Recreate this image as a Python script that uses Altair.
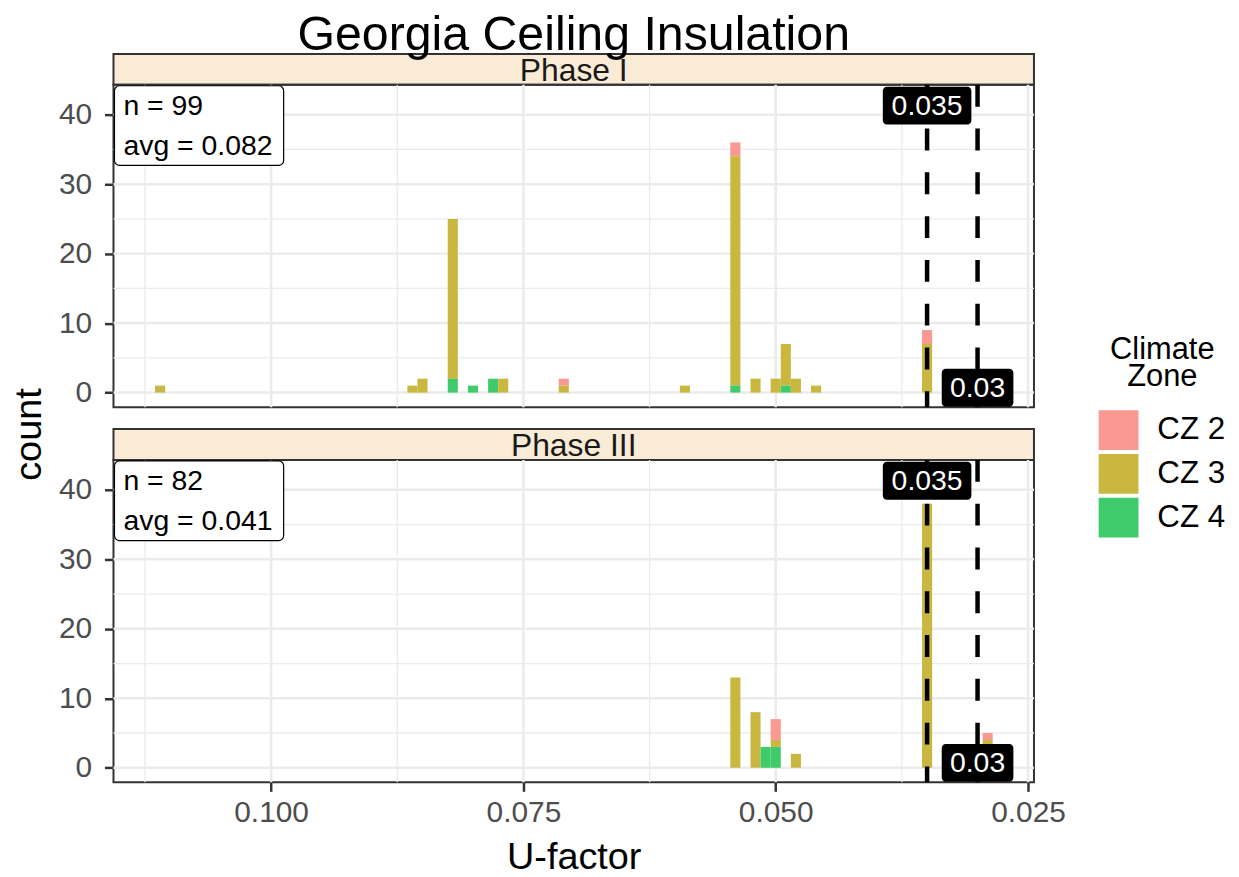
import altair as alt
import pandas as pd

FONT = "Liberation Sans"
TITLE = "Georgia Ceiling Insulation"
PHASES = ["Phase I", "Phase III"]
ZONES = ["CZ 2", "CZ 3", "CZ 4"]
ZONE_COLORS = ["#FA9892", "#C9B740", "#40CB6A"]
ZONE_STACK = [2, 1, 0]  # CZ 4 at the bottom, CZ 2 on top

# Phase I histogram (bin centres, counts per climate zone)
P1_BINS = [0.111, 0.086, 0.085, 0.082, 0.080, 0.078, 0.077, 0.071, 0.059,
           0.054, 0.052, 0.050, 0.049, 0.048, 0.046, 0.035]
P1_CZ2 = [0, 0, 0, 0, 0, 0, 0, 1, 0, 2, 0, 0, 0, 0, 0, 2]
P1_CZ3 = [1, 1, 2, 23, 0, 0, 2, 1, 1, 33, 2, 2, 6, 2, 1, 7]
P1_CZ4 = [0, 0, 0, 2, 1, 2, 0, 0, 0, 1, 0, 0, 1, 0, 0, 0]

# Phase III histogram
P3_BINS = [0.054, 0.052, 0.051, 0.050, 0.048, 0.035, 0.029]
P3_CZ2 = [0, 0, 0, 3, 0, 0, 1]
P3_CZ3 = [13, 8, 0, 1, 2, 38, 4]
P3_CZ4 = [0, 0, 3, 3, 0, 0, 0]

N_OBS = [99, 82]
AVG_U = [0.082, 0.041]

THRESH = [0.035, 0.03]
THRESH_TEXT = ["0.035", "0.03"]
THRESH_LABEL_Y = [41.3, 0.7]

X_TICKS = [0.100, 0.075, 0.050, 0.025]
X_MINOR = [0.1125, 0.0875, 0.0625, 0.0375]
Y_TICKS = [0, 10, 20, 30, 40]
Y_MINOR = [5, 15, 25, 35]
BIN_WIDTH = 0.001
X_DOMAIN = [0.02441, 0.11562]
Y_DOMAIN = [-2.1, 44.3]

W = 925
H = 324
STRIP_H = 31
GAP = 22

xscale = alt.Scale(domain=X_DOMAIN, reverse=True, nice=False, zero=False)
yscale = alt.Scale(domain=Y_DOMAIN, nice=False, zero=False)

yaxis = alt.Axis(values=Y_TICKS, format="d", grid=False, domain=False, ticks=True,
                 tickSize=9, tickWidth=2.5, tickColor="#333333",
                 labelFontSize=30, labelColor="#4D4D4D", labelPadding=13,
                 labelFont=FONT, title=None)
xaxis_bottom = alt.Axis(values=X_TICKS, format=".3f", grid=False, domain=False,
                        tickSize=9, tickWidth=2.5, tickColor="#333333",
                        labelFontSize=30, labelColor="#4D4D4D", labelPadding=6,
                        labelFont=FONT, title="U-factor", titleFontSize=38,
                        titleColor="black", titleFontWeight="normal",
                        titleFont=FONT, titlePadding=12)


def bars_frame(i):
    bins, cz2, cz3, cz4 = [(P1_BINS, P1_CZ2, P1_CZ3, P1_CZ4),
                           (P3_BINS, P3_CZ2, P3_CZ3, P3_CZ4)][i]
    rows = []
    for b, c2, c3, c4 in zip(bins, cz2, cz3, cz4):
        for z, c, o in zip(ZONES, (c2, c3, c4), ZONE_STACK):
            if c > 0:
                rows.append({"center": b, "zone": z, "count": c, "ord": o})
    return pd.DataFrame(rows)


def panel(i, show_x):
    xaxis = xaxis_bottom if show_x else None

    def X(f):
        if xaxis is None:
            return alt.X(f, type="quantitative", scale=xscale, axis=None)
        return alt.X(f, type="quantitative", scale=xscale, axis=xaxis)

    def Y(f):
        return alt.Y(f, type="quantitative", scale=yscale, axis=yaxis)

    gx_minor = alt.Chart(pd.DataFrame({"v": X_MINOR})).mark_rule(
        color="#EBEBEB", strokeWidth=1.3).encode(x=X("v"))
    gx_major = alt.Chart(pd.DataFrame({"v": X_TICKS})).mark_rule(
        color="#EBEBEB", strokeWidth=2.5).encode(x=X("v"))
    gy_minor = alt.Chart(pd.DataFrame({"v": Y_MINOR})).mark_rule(
        color="#EBEBEB", strokeWidth=1.3).encode(y=Y("v"))
    gy_major = alt.Chart(pd.DataFrame({"v": Y_TICKS})).mark_rule(
        color="#EBEBEB", strokeWidth=2.5).encode(y=Y("v"))

    bars = alt.Chart(bars_frame(i)).transform_stack(
        stack="count", groupby=["center"], as_=["y0", "y1"],
        sort=[alt.SortField("ord", order="ascending")]
    ).transform_calculate(
        lo=f"datum.center + {BIN_WIDTH / 2}",
        hi=f"datum.center - {BIN_WIDTH / 2}",
    ).mark_rect().encode(
        x=X("lo"),
        x2="hi:Q",
        y=Y("y0"),
        y2="y1:Q",
        color=alt.Color("zone:N", scale=alt.Scale(domain=ZONES, range=ZONE_COLORS),
                        legend=alt.Legend(
                            title=["Climate", "Zone"], orient="none",
                            legendX=990, legendY=283,
                            symbolType="square", symbolSize=1600,
                            symbolStrokeWidth=0, symbolOpacity=1,
                            labelFontSize=31.5, labelFont=FONT, labelColor="black",
                            titleFontSize=31, titleFont=FONT, titleColor="black",
                            titleFontWeight="normal", titleAlign="center",
                            titleAnchor="middle", titleLineHeight=27,
                            titlePadding=17, rowPadding=4, labelOffset=19)),
    )

    thr_df = pd.DataFrame({"t": THRESH, "txt": THRESH_TEXT, "ly": THRESH_LABEL_Y})
    dashed = alt.Chart(thr_df).mark_rule(
        color="black", strokeWidth=4.5, strokeDash=[22, 22]).encode(x=X("t"))

    box_layers = []
    for k, half in ((0, 44.5), (1, 36)):
        one = thr_df.iloc[[k]]
        box_layers.append(alt.Chart(one).mark_rect(
            color="black", cornerRadius=4, xOffset=-half, x2Offset=half,
            yOffset=-19, y2Offset=19).encode(x=X("t"), x2="t:Q", y=Y("ly"), y2="ly:Q"))
    thr_text = alt.Chart(thr_df).mark_text(
        color="white", fontSize=28.5, font=FONT, align="center", baseline="middle"
    ).encode(x=X("t"), y=Y("ly"), text="txt:N")

    info = pd.DataFrame({"l1": [f"n = {N_OBS[i]}"], "l2": [f"avg = {AVG_U[i]:.3f}"]})
    info_box = alt.Chart(info).mark_rect(
        fill="white", stroke="black", strokeWidth=1.2, cornerRadius=5
    ).encode(x=alt.value(1), x2=alt.value(171), y=alt.value(1), y2=alt.value(81))
    info_t1 = alt.Chart(info).mark_text(
        align="left", baseline="alphabetic", fontSize=28.5, font=FONT, color="black"
    ).encode(x=alt.value(10), y=alt.value(30.7), text="l1:N")
    info_t2 = alt.Chart(info).mark_text(
        align="left", baseline="alphabetic", fontSize=28.5, font=FONT, color="black"
    ).encode(x=alt.value(10), y=alt.value(70.7), text="l2:N")

    layers = [gx_minor, gx_major, gy_minor, gy_major, bars, dashed] + box_layers + \
             [thr_text, info_box, info_t1, info_t2]

    if show_x:
        ylab = alt.Chart(pd.DataFrame({"t": ["count"]})).mark_text(
            angle=270, fontSize=38, font=FONT, color="black",
            align="center", baseline="alphabetic"
        ).encode(x=alt.value(-73), y=alt.value(-25.5), text="t:N")
        layers.append(ylab)

    return alt.layer(*layers).properties(width=W, height=H)


def strip(i, with_title, top_gap):
    d = pd.DataFrame({"phase": [PHASES[i]], "title": [TITLE]})
    rect = alt.Chart(d).mark_rect(fill="#FAEBD7", stroke="#333333", strokeWidth=2).encode(
        x=alt.value(0), x2=alt.value(W), y=alt.value(top_gap), y2=alt.value(top_gap + STRIP_H))
    txt = alt.Chart(d).mark_text(
        fontSize=32, font=FONT, color="#1A1A1A", align="center", baseline="alphabetic"
    ).encode(x=alt.value(W / 2), y=alt.value(top_gap + 27), text="phase:N")
    layers = [rect, txt]
    if with_title:
        ttl = alt.Chart(d).mark_text(
            fontSize=48.5, font=FONT, color="black", align="center", baseline="alphabetic"
        ).encode(x=alt.value(W / 2), y=alt.value(-4), text="title:N")
        layers.append(ttl)
    return alt.layer(*layers).properties(
        width=W, height=top_gap + STRIP_H,
        view=alt.ViewBackground(stroke="transparent"))


chart = alt.vconcat(
    strip(0, True, 0), panel(0, False), strip(1, False, GAP), panel(1, True),
    spacing=0, bounds="flush"
).configure(
    font=FONT, background="white"
).configure_view(stroke="#333333", strokeWidth=2).properties(
    padding={"left": 2, "right": 5, "top": 0, "bottom": 5}
)

chart.save("out.html", embed_options={"renderer": "svg", "actions": False})
